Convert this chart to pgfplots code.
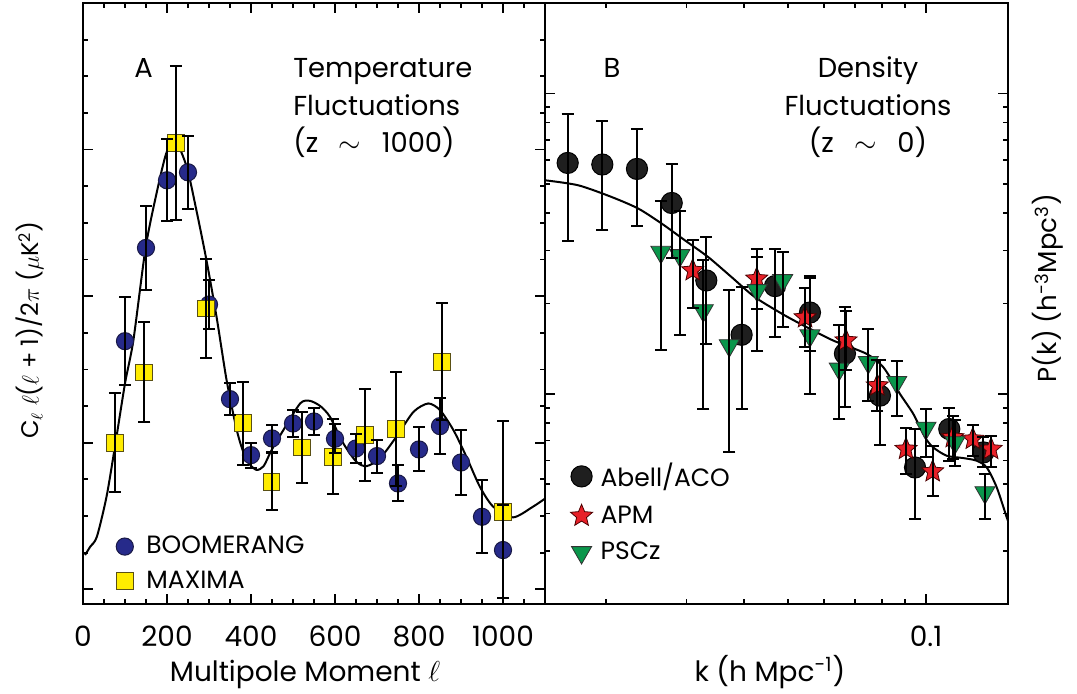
\documentclass[border=0pt]{standalone}
\usepackage{fontspec}
\setmainfont{Poppins}
\usepackage{pgfplots}
\pgfplotsset{compat=1.18}
\definecolor{boom}{RGB}{38,42,138}
\definecolor{boomedge}{RGB}{25,25,70}
\definecolor{maxy}{RGB}{255,236,0}
\definecolor{maxyedge}{RGB}{90,80,20}
\definecolor{apmred}{RGB}{232,32,40}
\definecolor{psczg}{RGB}{10,150,75}
\pgfdeclareplotmark{fstar}{%
  \pgfpathmoveto{\pgfpointpolar{90}{\pgfplotmarksize}}%
  \pgfpathlineto{\pgfpointpolar{126}{0.45\pgfplotmarksize}}%
  \pgfpathlineto{\pgfpointpolar{162}{\pgfplotmarksize}}%
  \pgfpathlineto{\pgfpointpolar{198}{0.45\pgfplotmarksize}}%
  \pgfpathlineto{\pgfpointpolar{234}{\pgfplotmarksize}}%
  \pgfpathlineto{\pgfpointpolar{270}{0.45\pgfplotmarksize}}%
  \pgfpathlineto{\pgfpointpolar{306}{\pgfplotmarksize}}%
  \pgfpathlineto{\pgfpointpolar{342}{0.45\pgfplotmarksize}}%
  \pgfpathlineto{\pgfpointpolar{18}{\pgfplotmarksize}}%
  \pgfpathlineto{\pgfpointpolar{54}{0.45\pgfplotmarksize}}%
  \pgfpathclose
  \pgfusepathqfillstroke
}
\newcommand{\fs}{\fontsize{14}{16}\selectfont}
\newcommand{\fa}{\fontsize{13.7}{16}\selectfont}
\newcommand{\fl}{\fontsize{12.5}{15}\selectfont}
\pgfplotsset{
  panel/.style={
    scale only axis, anchor=south west,
    height=300.5pt,
    clip marker paths=true,
    axis line style={line width=1pt},
    every tick/.style={black, line width=0.9pt},
    major tick length=5pt, minor tick length=2.6pt,
    tick align=inside,
    /pgf/number format/assume math mode=true,
    xticklabel style={font=\fs, anchor=base, yshift=-21.5pt},
    yticklabels={},
    legend image code/.code={\draw[##1] plot coordinates {(0cm,0cm)};},
    legend cell align=left,
  },
  ebars/.style={draw=none, mark=none, forget plot,
    error bars/.cd, y dir=both, y explicit,
    error bar style={draw=black, solid, line width=1pt},
    error mark options={rotate=90, mark size=3pt, draw=black, solid, line width=1pt}},
}
\begin{document}
\begin{tikzpicture}[x=1pt,y=1pt]
\useasboundingbox (0,0) rectangle (538.5,347);
% ---------------- Panel A ----------------
\begin{axis}[panel, at={(41.5pt,45pt)}, width=231pt,
  xmin=0, xmax=1100, ymin=-200, ymax=8000,
  xtick={0,200,400,600,800,1000},
  xticklabels={0,200,400,600,800,1000},
  minor xtick={0,50,...,1100},
  ytick={0,2000,4000,6000,8000},
  minor ytick={0,500,...,8000},
  legend style={at={(rel axis cs:0.071,0.12)}, anchor=north west, draw=none, fill=none,
    inner sep=0pt, row sep=3pt, column sep=4.5pt, font=\fl},
]
\addplot[black, line width=1pt, smooth, tension=0.45, forget plot] coordinates {
(5,468) (17,580) (33,717) (56,1263) (76,1945) (100,2809) (120,3400) (149,4658)
(175,5400) (198,5945) (219,6130) (247,5763) (270,5172) (294,4490) (318,3717)
(342,2850) (365,2200) (380,1900) (395,1720) (413,1630) (430,1680) (449,1900)
(477,2172) (517,2536) (540,2572) (565,2500) (588,2354) (620,1990) (651,1740)
(675,1681) (707,1786) (746,2081) (787,2422) (822,2536) (850,2445) (882,2172)
(913,1808) (945,1399) (977,1126) (1024,982) (1071,1126) (1100,1238)};
\addplot[only marks, mark=*, mark size=4.3pt, mark options={fill=boom, draw=boomedge, line width=0.5pt}]
table[x=l, y=v] {
l v
100 3386
150 4658
200 5581
250 5690
300 3886
350 2595
400 1831
450 2059
500 2263
550 2290
600 2054
650 1922
700 1818
750 1445
800 1909
850 2227
900 1731
950 990
1000 536
};
\addlegendentry{BOOMERANG}
\addplot[only marks, mark=square*, mark size=4.2pt, mark options={fill=maxy, draw=maxyedge, line width=0.5pt}]
table[x=l, y=v] {
l v
76 2000
146 2959
221 6095
293 3832
380 2264
449 1468
522 1936
596 1808
671 2104
746 2186
855 3104
1000 1058
};
\addlegendentry{MAXIMA}
\addplot[ebars] table[x=l, y=v, y error plus=ep, y error minus=em] {
l v ep em
100 3386 600 600
150 4658 575 575
200 5581 560 560
250 5690 500 500
300 3886 330 330
350 2595 220 220
400 1831 170 170
450 2059 180 180
500 2263 180 180
550 2290 190 190
600 2054 200 200
650 1922 200 200
700 1818 225 225
750 1445 245 245
800 1909 300 300
850 2227 380 380
900 1731 440 440
950 990 500 500
1000 536 614 659
};
\addplot[ebars] table[x=l, y=v, y error plus=ep, y error minus=em] {
l v ep em
76 2000 675 675
146 2959 689 678
221 6095 1050 1050
293 3832 670 670
380 2264 570 570
449 1468 390 390
522 1936 480 480
596 1808 510 510
671 2104 630 630
746 2186 780 780
855 3104 800 800
1000 1058 1242 1181
};
\end{axis}
% ---------------- Panel B ----------------
\begin{axis}[panel, at={(272.5pt,45pt)}, width=231.5pt,
  xmode=log, ymode=log,
  xmin=0.01473, xmax=0.151, ymin=2000, ymax=200000,
  xtick={0.1}, xticklabels={0.1},
  minor xtick={0.02,0.03,0.04,0.05,0.06,0.07,0.08,0.09},
  ytick={10000,100000},
  minor ytick={2000,3000,4000,5000,6000,7000,8000,9000,20000,30000,40000,50000,60000,70000,80000,90000,200000},
  legend style={at={(rel axis cs:0.0543,0.2417)}, anchor=north west, draw=none, fill=none,
    inner sep=0pt, row sep=4pt, column sep=2pt, font=\fl},
]
\addplot[black, line width=1pt, smooth, tension=0.45, forget plot] coordinates {
(0.01473,51400) (0.01741,49460) (0.02059,45220) (0.02354,41380) (0.02649,36880)
(0.02977,32430) (0.03347,28530) (0.03764,24470) (0.04232,20990) (0.04921,18240)
(0.05580,16470) (0.06274,15050) (0.07422,13590) (0.08069,12270) (0.08773,10000)
(0.09382,8577) (0.09950,7170) (0.1037,6637) (0.1110,6227) (0.1206,6117)
(0.1290,5995) (0.1357,5692) (0.1427,4884) (0.1501,3879) (0.151,3800)};
\addplot[only marks, mark=*, mark size=5.3pt, mark options={fill=black!88, draw=black, line width=0.5pt}]
table[x=k, y=p] {
k p
0.01651 58700
0.01965 58000
0.02339 56080
0.02785 43190
0.03314 23860
0.03958 15730
0.04681 22840
0.05580 18660
0.06653 13620
0.07932 9870
0.09462 5692
0.1124 7643
0.1334 6390
};
\addlegendentry{Abell/ACO}
\addplot[only marks, mark=fstar, mark size=5.8pt, mark options={fill=apmred, draw=black!70!red, line width=0.4pt}]
table[x=k, y=p] {
k p
0.03095 25760
0.04270 24170
0.05444 17970
0.06688 15050
0.0783 10660
0.09044 6555
0.1034 5520
0.1144 7170
0.1265 7080
0.1387 6555
};
\addlegendentry{APM}
\addplot[only marks, mark=triangle*, mark size=5.8pt, mark options={rotate=180, fill=psczg, draw=black!80, line width=0.4pt}]
table[x=k, y=p] {
k p
0.02638 29650
0.02902 28900
0.03264 18950
0.03720 14490
0.04281 22100
0.04864 23860
0.0558 15640
0.06467 12110
0.07482 12740
0.08630 10930
0.1 7705
0.1157 6895
0.1345 4699
};
\addlegendentry{PSCz}
\addplot[ebars] table[x=k, y=p, y error plus=ep, y error minus=em] {
k p ep em
0.01651 58700 26600 26300
0.01965 58000 23000 23000
0.02339 56080 20120 19980
0.02785 43190 14940 14790
0.03314 23860 9410 9180
0.03958 15730 6930 6844
0.04681 22840 7590 7400
0.05580 18660 5940 4730
0.06653 13620 5780 4600
0.07932 9870 3130 3090
0.09462 5692 1955 1858
0.1124 7643 1310 1649
0.1334 6390 774 698
};
\addplot[ebars] table[x=k, y=p, y error plus=ep, y error minus=em] {
k p ep em
0.03095 25760 6680 6470
0.04270 24170 6230 4970
0.05444 17970 4630 3670
0.06688 15050 3850 3050
0.0783 10660 2260 1860
0.09044 6555 1145 1155
0.1034 5520 1200 940
0.1144 7170 1280 1090
0.1265 7080 820 850
0.1387 6555 705 835
};
\addplot[ebars] table[x=k, y=p, y error plus=ep, y error minus=em] {
k p ep em
0.02638 29650 14100 15600
0.02902 28900 11720 13170
0.03264 18950 9030 10040
0.03720 14490 7630 8070
0.04281 22100 6480 8160
0.04864 23860 5790 7180
0.0558 15640 8760 5640
0.06467 12110 4890 3856
0.07482 12740 3760 3240
0.08630 10930 1910 2464
0.1 7705 1208 1558
0.1157 6895 1305 1127
0.1345 4699 734 865
};
\end{axis}
% ---------------- texts ----------------
\node[font=\fa, anchor=base, inner sep=0pt] at (71.75,308) {A};
\node[font=\fa, anchor=base west, inner sep=0pt] at (146.5,308) {Temperature};
\node[font=\fa, anchor=base west, inner sep=0pt] at (146.5,289) {Fluctuations};
\node[font=\fa, anchor=base west, inner sep=0pt] at (146.5,270.5) {(z\hspace{0.75em}$\sim$\hspace{0.75em}1000)};
\node[font=\fa, anchor=base, inner sep=0pt] at (306,308) {B};
\node[font=\fa, anchor=base, inner sep=0pt] at (434,308) {Density};
\node[font=\fa, anchor=base, inner sep=0pt] at (434,289) {Fluctuations};
\node[font=\fa, anchor=base, inner sep=0pt] at (434,270.5) {(z\hspace{0.75em}$\sim$\hspace{0.75em}0)};
\node[font=\fs, anchor=base, inner sep=0pt] at (152.5,6) {Multipole Moment $\ell$};
\node[font=\fs, anchor=base, inner sep=0pt] at (385,6) {k (h Mpc\textsuperscript{-1})};
\node[font=\fontsize{12}{14}\selectfont, rotate=90, inner sep=0pt] at (15,182) {C$_\ell$ $\ell$($\ell$ + 1)/2$\pi$ ($\mu$K\textsuperscript{2})};
\node[font=\fontsize{13}{15}\selectfont, rotate=90, inner sep=0pt] at (524,203) {P(k) (h\textsuperscript{-3}Mpc\textsuperscript{3})};
\end{tikzpicture}
\end{document}
